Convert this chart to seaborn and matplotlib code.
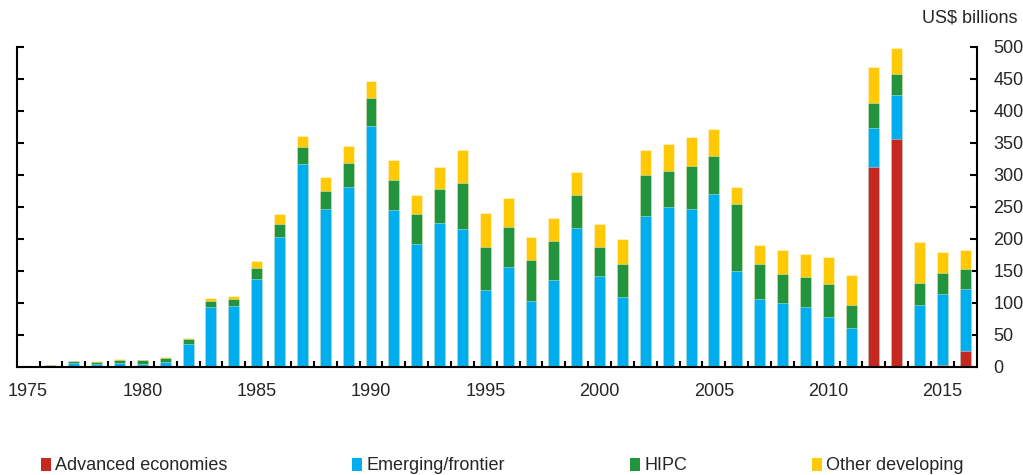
import matplotlib
matplotlib.use('Agg')
import matplotlib.pyplot as plt
from matplotlib.patches import Patch
import seaborn as sns
import pandas as pd
import numpy as np

years = list(range(1975, 2017))

advanced = [0, 0, 0, 0, 0, 0, 0, 0, 0, 0,
            0, 0, 0, 0, 0, 0, 0, 0, 0, 0,
            0, 0, 0, 0, 0, 0, 0, 0, 0, 0,
            0, 0, 0, 0, 0, 0, 0, 311.5, 355, 0,
            2, 24]
emerging = [0, 0.5, 6, 4, 5, 4, 7, 36, 93, 95.5,
            137, 202, 317, 246, 280, 376, 245, 192, 225, 215,
            120, 155, 103, 136, 217, 142, 109, 236, 249, 247,
            270, 150, 106, 99, 94, 77, 60, 61, 69, 97,
            111, 97]
hipc = [1, 1.5, 3, 4, 6, 6, 6, 7, 10, 10,
        17, 21, 26, 28, 39, 44, 47, 47, 52, 72,
        67, 63, 63, 61, 52, 45, 52, 63, 57, 67,
        59, 104, 54, 46, 46, 52, 37, 40, 34, 33,
        34, 31]
other = [0.3, 0.5, 0.5, 1, 1, 1, 1.5, 1.5, 4, 5,
         11, 16, 17, 23, 26, 26.5, 31, 29, 35, 51,
         53, 46, 36, 35, 35, 36, 38, 40, 42, 45,
         42, 27, 30, 38, 36, 43, 46, 55.5, 39.5, 65,
         32, 31]

labels = ['Advanced economies', 'Emerging/frontier', 'HIPC', 'Other developing']
colors = ['#C4281F', '#00ADEE', '#22943E', '#FFCA05']

df = pd.DataFrame({'year': years, 'adv': advanced, 'em': emerging,
                   'hipc': hipc, 'other': other})
# cumulative heights for the stacked bars
df['c_adv'] = df['adv']
df['c_em'] = df['c_adv'] + df['em']
df['c_hipc'] = df['c_em'] + df['hipc']
df['c_other'] = df['c_hipc'] + df['other']

sns.set_theme(style='ticks')
plt.rcParams['font.family'] = ['Liberation Sans', 'DejaVu Sans']

fig = plt.figure(figsize=(10.23, 4.75), dpi=100)
ax = fig.add_axes([0.0163, 0.228, 0.9385, 0.6737])

for col, c in zip(['c_other', 'c_hipc', 'c_em', 'c_adv'], colors[::-1]):
    sns.barplot(data=df, x='year', y=col, color=c, saturation=1, width=0.48,
                errorbar=None, ax=ax, edgecolor=(1, 1, 1, 0.45), linewidth=0.6)

n = len(years)
ax.set_xlim(-0.5, n - 0.5)
ax.set_ylim(0, 500)
ax.set_xlabel('')
ax.set_ylabel('')

# labels on years, tick marks between bars
ax.set_xticks(np.arange(0, n, 5))
ax.set_xticklabels([str(y) for y in years[::5]], fontsize=13)
ax.tick_params(axis='x', which='major', length=0, pad=12)
ax.set_xticks(np.arange(0.5, n - 0.5, 1), minor=True)
ax.tick_params(axis='x', which='minor', direction='in', length=4, width=1.5, color='black')

ax.set_yticks(range(0, 501, 50))
ax.yaxis.tick_right()
ax.tick_params(axis='y', which='major', direction='in', length=5, width=1.5,
               left=True, right=True, labelleft=False, labelright=True,
               labelsize=13, pad=12, color='black')

for s in ['left', 'right', 'bottom']:
    ax.spines[s].set_visible(True)
    ax.spines[s].set_linewidth(1.5)
    ax.spines[s].set_color('black')
ax.spines['top'].set_visible(False)

fig.text(0.995, 0.962, 'US$ billions', ha='right', va='center', fontsize=13)

handles = [Patch(facecolor=c, edgecolor='none') for c in colors]
fig.legend(handles, labels, loc='center left', bbox_to_anchor=(0.040, 0.019),
           ncol=4, frameon=False, fontsize=13, handlelength=0.55, handleheight=0.75,
           handletextpad=0.25, columnspacing=6.9, borderpad=0, borderaxespad=0)

fig.savefig('out.png', dpi=100)
